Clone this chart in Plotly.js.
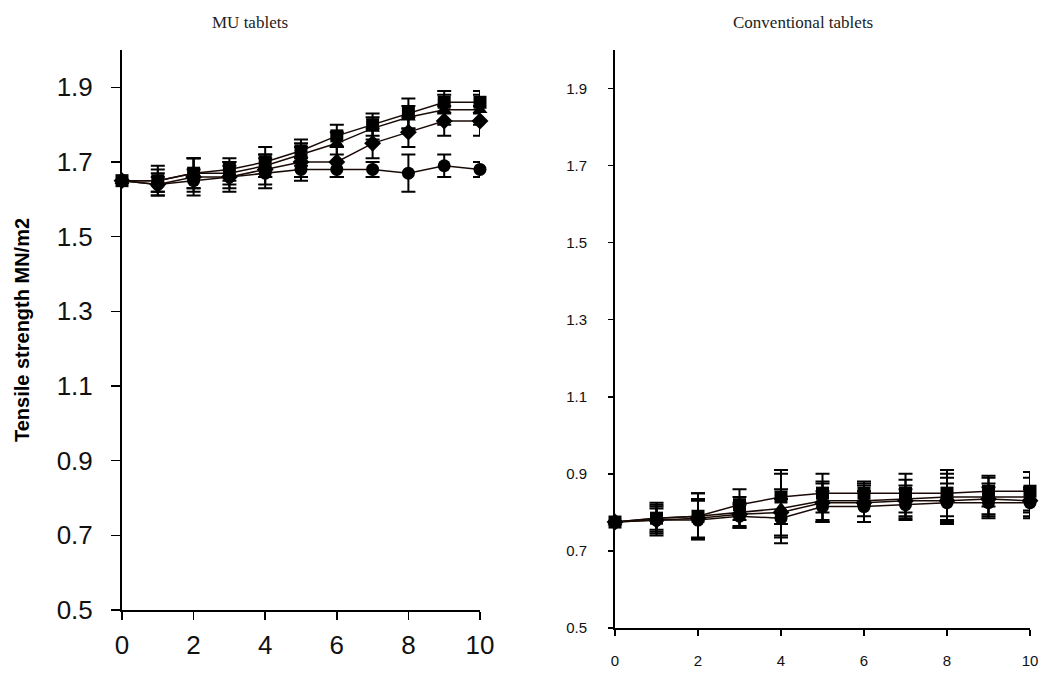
<!DOCTYPE html>
<html>
<head>
<meta charset="utf-8">
<script src="https://cdn.plot.ly/plotly-3.0.1.min.js"></script>
<style>html,body{margin:0;padding:0;background:#fff;}#chart{width:1048px;height:677px;}</style>
</head>
<body>
<div id="chart"></div>
<script>
// Storage time (x values)
const days = [0,1,2,3,4,5,6,7,8,9,10];

// MU tablets
const muA = [1.65,1.65,1.67,1.68,1.70,1.73,1.77,1.80,1.83,1.86,1.86];
const muB = [1.65,1.65,1.67,1.67,1.69,1.72,1.75,1.79,1.82,1.84,1.84];
const muC = [1.65,1.64,1.66,1.66,1.68,1.70,1.70,1.75,1.78,1.81,1.81];
const muD = [1.65,1.64,1.65,1.66,1.67,1.68,1.68,1.68,1.67,1.69,1.68];
const muErrA = [0,0.03,0.04,0.03,0.04,0.03,0.03,0.03,0.04,0.03,0.03];
const muErrB = [0,0.04,0.04,0.03,0.03,0.03,0.03,0.03,0.03,0.04,0.04];
const muErrC = [0,0.03,0.05,0.04,0.04,0.04,0.04,0.04,0.04,0.04,0.04];
const muErrD = [0,0.02,0.03,0.03,0.04,0.03,0.02,0.02,0.05,0.03,0.02];

// Conventional tablets
const cvA = [0.775,0.785,0.79,0.82,0.84,0.85,0.85,0.85,0.85,0.855,0.855];
const cvB = [0.775,0.785,0.79,0.80,0.81,0.83,0.83,0.835,0.84,0.84,0.84];
const cvC = [0.775,0.78,0.785,0.795,0.80,0.825,0.825,0.83,0.83,0.835,0.83];
const cvD = [0.775,0.78,0.78,0.79,0.785,0.815,0.815,0.82,0.825,0.825,0.825];
const cvErrA = [0,0.04,0.06,0.04,0.07,0.05,0.03,0.05,0.06,0.04,0.05];
const cvErrB = [0,0.03,0.06,0.04,0.09,0.05,0.04,0.05,0.06,0.05,0.05];
const cvErrC = [0,0.04,0.05,0.03,0.06,0.05,0.05,0.04,0.06,0.04,0.03];
const cvErrD = [0,0.03,0.05,0.03,0.05,0.04,0.04,0.04,0.05,0.04,0.04];

const yTicks = [0.5,0.7,0.9,1.1,1.3,1.5,1.7,1.9];
const xTicks = [0,2,4,6,8,10];

const symbols = ['square','triangle-up','diamond','circle'];

function mk(y, err, sym, xa, ya, sz){
  return {
    x: days, y: y, type:'scatter', mode:'lines+markers',
    xaxis: xa, yaxis: ya, cliponaxis:false, showlegend:false,
    line:{color:'#1a0a05', width:1.5},
    marker:{symbol:sym, size:sz, color:'#000'},
    error_y:{type:'data', array:err, visible:true, color:'#000', thickness:2, width:7}
  };
}

const traces = [
  mk(muA, muErrA, symbols[0], 'x','y',13),
  mk(muB, muErrB, symbols[1], 'x','y',13),
  mk(muC, muErrC, symbols[2], 'x','y',13),
  mk(muD, muErrD, symbols[3], 'x','y',13),
  mk(cvA, cvErrA, symbols[0], 'x2','y2',13),
  mk(cvB, cvErrB, symbols[1], 'x2','y2',13),
  mk(cvC, cvErrC, symbols[2], 'x2','y2',13),
  mk(cvD, cvErrD, symbols[3], 'x2','y2',13)
];

const axBase = {showgrid:false, zeroline:false, showline:true, linecolor:'#000', linewidth:2,
  ticks:'outside', tickcolor:'#000', tickwidth:1.5, ticklen:7, fixedrange:true};

const layout = {
  width:1048, height:677,
  margin:{l:0,r:0,t:0,b:0},
  paper_bgcolor:'#fff', plot_bgcolor:'#fff',
  xaxis: Object.assign({}, axBase, {domain:[122/1048, 480/1048], range:[0,10],
    tickvals:xTicks, ticktext:xTicks.map(String), anchor:'y', ticklen:8, ticklabelstandoff:3,
    tickfont:{family:'Arial, Liberation Sans', size:26, color:'#111'}}),
  yaxis: Object.assign({}, axBase, {domain:[67/677, 627/677], range:[0.5,2.0],
    tickvals:yTicks, ticktext:yTicks.map(v=>v.toFixed(1)), anchor:'x', ticklen:9, ticklabelstandoff:13,
    tickfont:{family:'Arial, Liberation Sans', size:26, color:'#111'},
    title:{text:'Tensile strength MN/m2', font:{family:'Arial, Liberation Sans', size:20, color:'#000', weight:'bold'}, standoff:22}}),
  xaxis2: Object.assign({}, axBase, {domain:[615/1048, 1030/1048], range:[0,10],
    tickvals:xTicks, ticktext:xTicks.map(String), anchor:'y2', ticklabelstandoff:12,
    tickfont:{family:'Arial, Liberation Sans', size:15, color:'#111'}, ticklen:6}),
  yaxis2: Object.assign({}, axBase, {domain:[49/677, 627/677], range:[0.5,2.0],
    tickvals:yTicks, ticktext:yTicks.map(v=>v.toFixed(1)), anchor:'x2', ticklen:5, ticklabelstandoff:18,
    tickfont:{family:'Arial, Liberation Sans', size:15, color:'#111'}}),
  annotations:[
    {text:'MU tablets', xref:'paper', yref:'paper', x:250/1048, y:1-22/677, showarrow:false,
     xanchor:'center', yanchor:'middle', font:{family:'Liberation Serif, Times New Roman, serif', size:17, color:'#222'}},
    {text:'Conventional tablets', xref:'paper', yref:'paper', x:803/1048, y:1-22/677, showarrow:false,
     xanchor:'center', yanchor:'middle', font:{family:'Liberation Serif, Times New Roman, serif', size:17, color:'#222'}}
  ]
};

Plotly.newPlot('chart', traces, layout, {staticPlot:true, displayModeBar:false});
</script>
</body>
</html>
